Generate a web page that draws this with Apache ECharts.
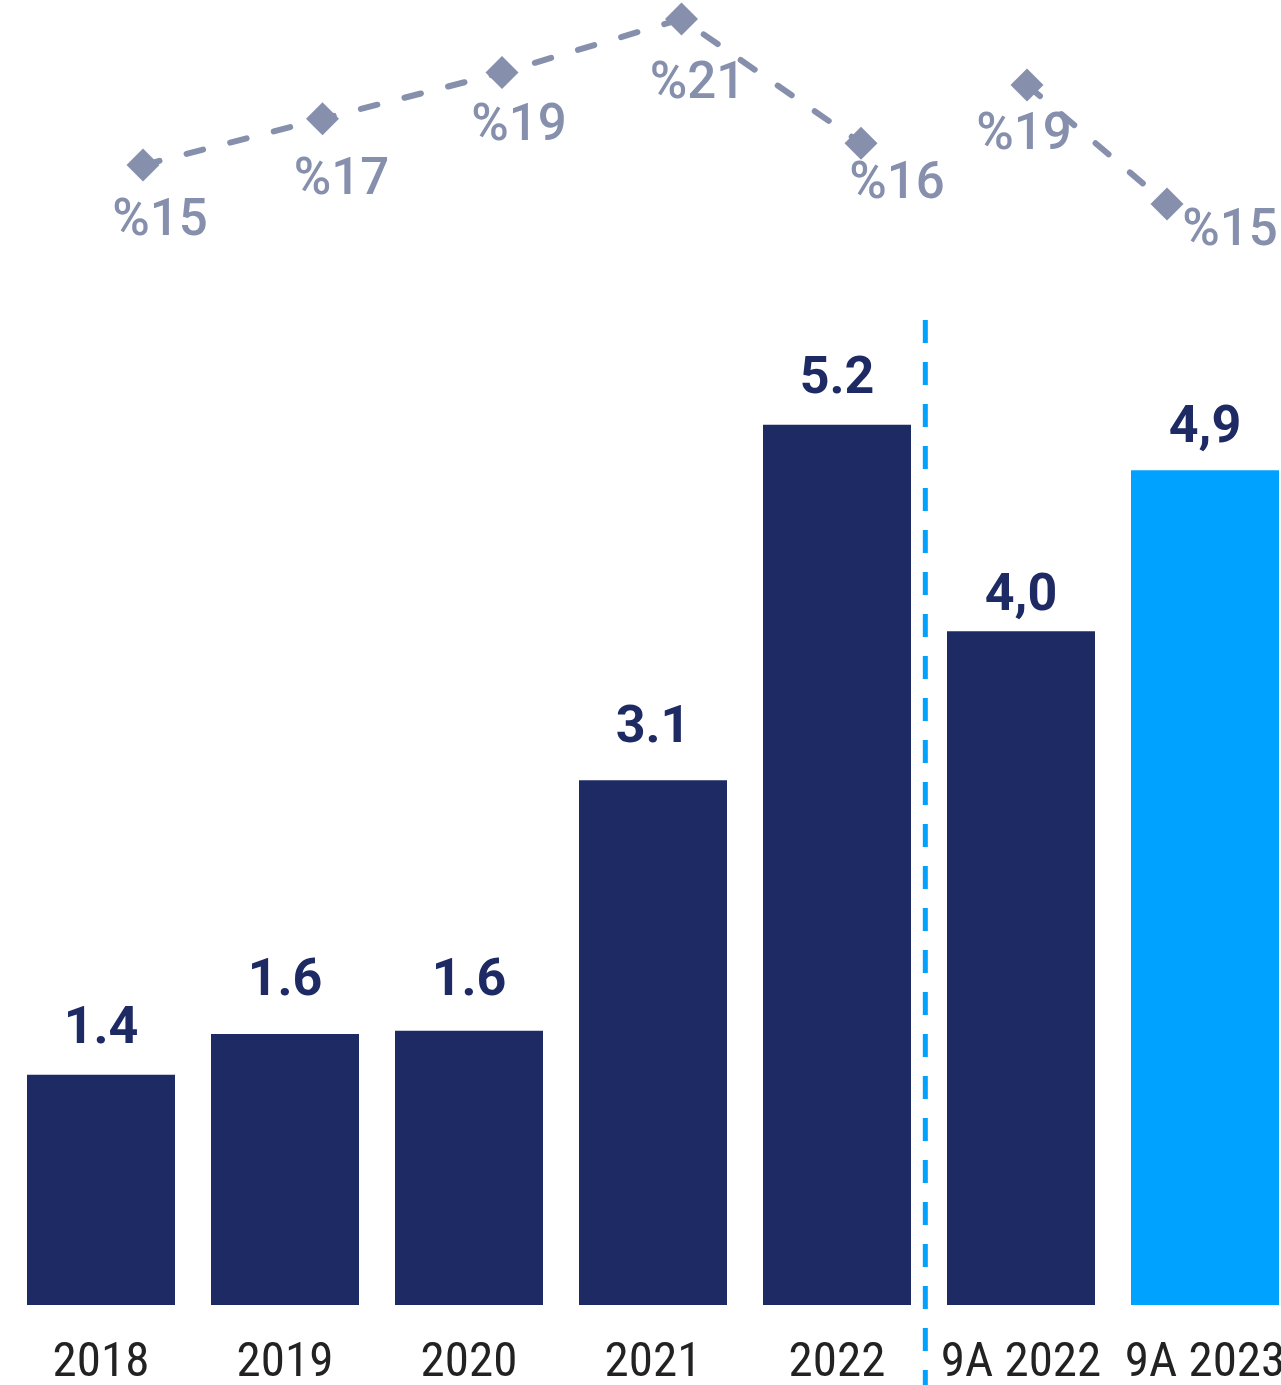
<!DOCTYPE html>
<html><head><meta charset="utf-8">
<script src="https://cdn.jsdelivr.net/npm/echarts@6/dist/echarts.min.js"></script>
<style>html,body{margin:0;padding:0;background:#fff}#chart{width:1281px;height:1385px}</style>
</head><body>
<div id="chart"></div>
<script>
// ---- data ----
const categories = ['2018', '2019', '2020', '2021', '2022', '9A 2022', '9A 2023'];
const barValues = [1.36, 1.60, 1.62, 3.10, 5.20, 3.98, 4.93];
const barLabels = ['1.4', '1.6', '1.6', '3.1', '5.2', '4,0', '4,9'];

const marginCatsA = ['2018', '2019', '2020', '2021', '2022'];
const marginValsA = [15.0, 16.9, 18.8, 21.0, 15.9];
const marginLabelsA = ['%15', '%17', '%19', '%21', '%16'];

const marginCatsB = ['9A 2022', '9A 2023'];
const marginValsB = [19.0, 15.0];
const marginLabelsB = ['%19', '%15'];

const dividerAt = [4.48]; // between "2022" and "9A 2022" on the category index scale

// ---- layout / style ----
const NAVY = '#1d2a64';
const BRIGHT = '#00a2ff';
const GREY = '#8690ad';
const labelOffsetsA = [[17, 57], [19, 62], [17, 55], [16, 66], [36, 42]];
const labelOffsetsB = [[-3, 51], [63, 28]];
const barLabelDistances = [19, 26, 23, 25, 19, 8, 15];

const chart = echarts.init(document.getElementById('chart'), null, { renderer: 'canvas' });

const pctLabelBase = {
  show: true, position: 'inside', color: GREY,
  fontFamily: 'Roboto', fontSize: 51, fontWeight: 500
};

function lineData(vals, labels, offsets) {
  return vals.map((v, i) => ({
    value: v,
    label: Object.assign({}, pctLabelBase, { offset: offsets[i], formatter: () => labels[i] })
  }));
}

const barData = barValues.map((v, i) => ({
  value: v,
  itemStyle: { color: i === categories.length - 1 ? BRIGHT : NAVY },
  label: {
    show: true, position: 'top', distance: barLabelDistances[i], color: NAVY,
    fontFamily: 'Roboto', fontSize: 52, fontWeight: 'bold',
    formatter: () => barLabels[i]
  }
}));

const lineStyleCommon = { color: GREY, width: 6, type: [17, 28], cap: 'round' };

const option = {
  animation: false,
  backgroundColor: '#fff',
  grid: [
    { left: 9, width: 1288, top: 289.2, bottom: 80, outerBoundsMode: 'none', containLabel: false },
    { left: 143, width: 718, top: 6.9, height: 182.5, outerBoundsMode: 'none', containLabel: false },
    { left: 1027, width: 140, top: 10.6, height: 223.1, outerBoundsMode: 'none', containLabel: false },
    { left: 9, width: 1288, top: 320, bottom: 0, outerBoundsMode: 'none', containLabel: false }
  ],
  xAxis: [
    {
      gridIndex: 0, type: 'category', data: categories, boundaryGap: true,
      axisLine: { show: false }, axisTick: { show: false }, splitLine: { show: false },
      axisLabel: { margin: 34, color: '#222', fontFamily: 'Roboto Condensed', fontSize: 49, interval: 0 }
    },
    { gridIndex: 1, type: 'category', data: marginCatsA, boundaryGap: false, show: false },
    { gridIndex: 2, type: 'category', data: marginCatsB, boundaryGap: false, show: false },
    { gridIndex: 3, type: 'value', min: -0.5, max: 6.5, show: false }
  ],
  yAxis: [
    { gridIndex: 0, type: 'value', min: 0, max: 6, show: false, splitLine: { show: false } },
    { gridIndex: 1, type: 'value', min: 14, max: 21.5, show: false, splitLine: { show: false } },
    { gridIndex: 2, type: 'value', min: 14, max: 21.5, show: false, splitLine: { show: false } },
    { gridIndex: 3, type: 'value', min: 0, max: 1, show: false, splitLine: { show: false } }
  ],
  series: [
    {
      type: 'bar', xAxisIndex: 0, yAxisIndex: 0, barWidth: 148,
      data: barData,
      z: 2
    },
    {
      type: 'line', xAxisIndex: 3, yAxisIndex: 3, silent: true,
      data: [[dividerAt[0], 1], [dividerAt[0], 0]],
      symbol: 'none', clip: false,
      lineStyle: { color: BRIGHT, width: 5, type: [23, 19], cap: 'butt' },
      z: 3
    },
    {
      type: 'line', xAxisIndex: 1, yAxisIndex: 1, clip: false,
      data: lineData(marginValsA, marginLabelsA, labelOffsetsA),
      symbol: 'diamond', symbolSize: 33,
      itemStyle: { color: GREY },
      lineStyle: lineStyleCommon,
      z: 4
    },
    {
      type: 'line', xAxisIndex: 2, yAxisIndex: 2, clip: false,
      data: lineData(marginValsB, marginLabelsB, labelOffsetsB),
      symbol: 'diamond', symbolSize: 33,
      itemStyle: { color: GREY },
      lineStyle: lineStyleCommon,
      z: 4
    }
  ]
};
chart.setOption(option);
</script></body></html>
